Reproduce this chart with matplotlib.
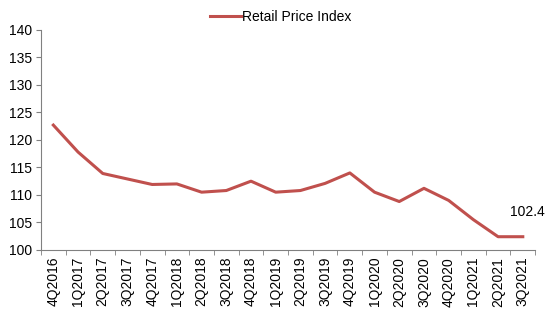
import numpy as np
import matplotlib
matplotlib.use("Agg")
import matplotlib.pyplot as plt

plt.rcParams['font.family'] = ['Liberation Sans', 'DejaVu Sans']

quarters = ["4Q2016", "1Q2017", "2Q2017", "3Q2017", "4Q2017", "1Q2018", "2Q2018",
            "3Q2018", "4Q2018", "1Q2019", "2Q2019", "3Q2019", "4Q2019", "1Q2020",
            "2Q2020", "3Q2020", "4Q2020", "1Q2021", "2Q2021", "3Q2021"]
rpi = [122.7, 117.8, 113.9, 112.9, 111.9, 112.0, 110.5, 110.8, 112.5, 110.5,
       110.8, 112.1, 114.0, 110.5, 108.8, 111.2, 109.0, 105.5, 102.4, 102.4]

fs = 10
fig = plt.figure(figsize=(5.5, 3.12), dpi=100)
ax = fig.add_axes([0.0745, 0.199, 0.8985, 0.705])

x = np.arange(len(quarters))
ax.plot(x, rpi, color='#C0504D', linewidth=2.2, label='Retail Price Index')
ax.annotate(f"{rpi[-1]:.1f}", (x[-1], rpi[-1]), xytext=(3, 13), textcoords='offset points',
            ha='center', va='bottom', fontsize=fs, color='black')

ax.set_xlim(-0.5, len(quarters) - 0.5)
ax.set_ylim(100, 140)
ax.set_yticks(np.arange(100, 141, 5))
ax.set_xticks(x)
ax.set_xticklabels(quarters, rotation=90, fontsize=fs)
ax.set_xticks(np.arange(-0.5, len(quarters)), minor=True)
ax.tick_params(axis='x', which='major', length=0, pad=5)
ax.tick_params(axis='x', which='minor', length=3.5, color='#808080', direction='out')
ax.tick_params(axis='y', length=3.5, color='#808080', direction='out', labelsize=fs, pad=3)

for s in ['top', 'right']:
    ax.spines[s].set_visible(False)
for s in ['left', 'bottom']:
    ax.spines[s].set_color('#808080')
    ax.spines[s].set_linewidth(0.8)

ax.legend(loc='lower center', bbox_to_anchor=(0.486, 0.99), frameon=False, fontsize=fs,
          handlelength=2.2, borderaxespad=0.2, handletextpad=0.1)

fig.savefig("out.png", dpi=100)
